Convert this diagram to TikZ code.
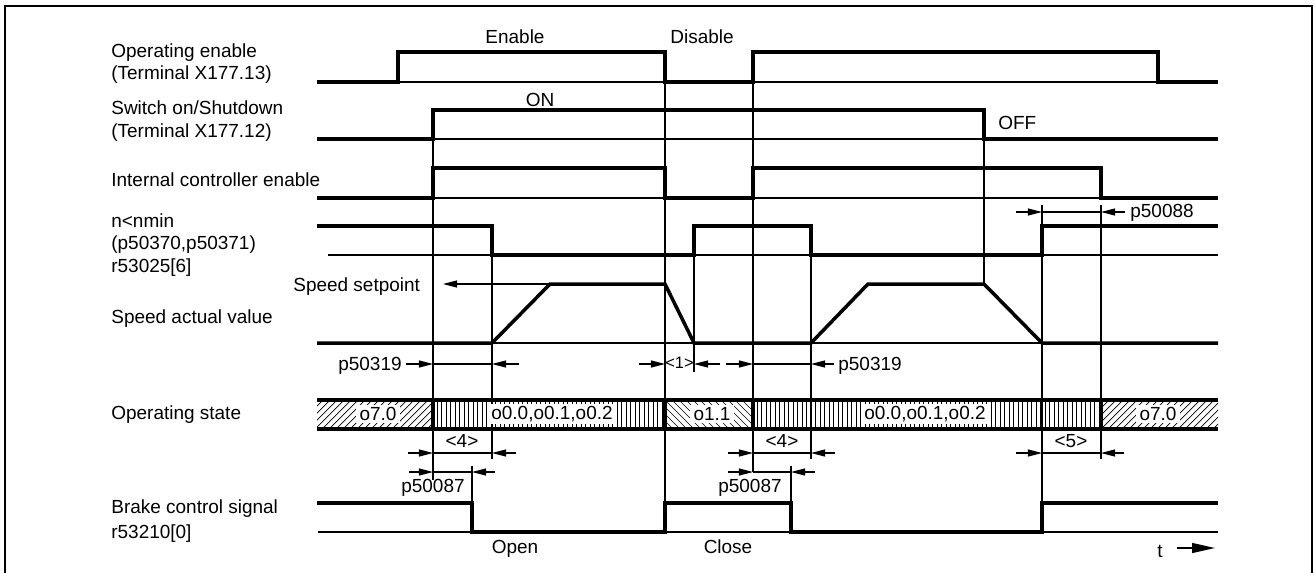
\documentclass[tikz,border=0pt]{standalone}
\usepackage{fontspec}
\setmainfont{Liberation Sans}
\usetikzlibrary{arrows.meta}
\begin{document}
\begin{tikzpicture}[x=0.02cm,y=-0.02cm,
  sig/.style={line width=2pt, line join=miter},
  thinl/.style={line width=0.6pt},
  hatch/.style={line width=0.4pt},
  lbl/.style={font=\fontsize{10.8}{13}\selectfont, inner sep=0pt},
  dimarrow/.style={thinl,-{Triangle[length=8pt,width=4pt]}},
  statelbl/.style={lbl, fill=white, inner xsep=2pt, inner ysep=1.5pt},
  sep/.style={line width=2.2pt}
]
\useasboundingbox (0,0) rectangle (1315,572);
\draw[line width=1.4pt] (5,574) -- (5,6) -- (1312,6) -- (1312,574);

% ---------- left labels ----------
\node[lbl,anchor=base west] (l1a) at (111,57) {Operating enable};
\node[lbl,anchor=base west] (l1b) at (111,79) {(Terminal X177.13)};
\node[lbl,anchor=base west] (l2a) at (111,114) {Switch on/Shutdown};
\node[lbl,anchor=base west] (l2b) at (111,137) {(Terminal X177.12)};
\node[lbl,anchor=base west] (l3) at (111,186) {Internal controller enable};
\node[lbl,anchor=base west] (l4a) at (111,227) {n<nmin};
\node[lbl,anchor=base west] (l4b) at (111,249) {(p50370,p50371)};
\node[lbl,anchor=base west] (l4c) at (111,272) {r53025[6]};
\node[lbl,anchor=base west] (l5) at (111,323) {Speed actual value};
\node[lbl,anchor=base west] (l6) at (111,419) {Operating state};
\node[lbl,anchor=base west] (l7a) at (111,513) {Brake control signal};
\node[lbl,anchor=base west] (l7b) at (111,538) {r53210[0]};

% ---------- top labels ----------
\node[lbl,anchor=base] (en) at (515,43) {Enable};
\node[lbl,anchor=base] (dis) at (702,43) {Disable};
\node[lbl,anchor=base] (on) at (540,106) {ON};
\node[lbl,anchor=base west] (off) at (998,129) {OFF};
\node[lbl,anchor=base west] (ssp) at (293,291) {Speed setpoint};

% ---------- thin baselines ----------
\draw[thinl] (317,82) -- (1218,82);
\draw[thinl] (317,139) -- (1218,139);
\draw[thinl] (317,198) -- (1218,198);
\draw[thinl] (328,255) -- (1218,255);
\draw[thinl] (317,343) -- (1218,343);
\draw[thinl] (318,532) -- (1218,532);

% ---------- vertical guides ----------
\draw[thinl] (433,139) -- (433,480);
\draw[thinl] (492,255) -- (492,459);
\draw[thinl] (665,82) -- (665,532);
\draw[thinl] (694,255) -- (694,372);
\draw[thinl] (753,82) -- (753,472);
\draw[thinl] (811,255) -- (811,459);
\draw[thinl] (984,139) -- (984,284);
\draw[thinl] (1042,205) -- (1042,503);
\draw[thinl] (1101,205) -- (1101,459);
\draw[thinl] (472,466) -- (472,503);
\draw[thinl] (791,466) -- (791,503);

% ---------- signals ----------
\draw[sig] (317,82) -- (398,82) -- (398,52) -- (665,52) -- (665,82) -- (753,82) -- (753,52) -- (1158,52) -- (1158,82) -- (1218,82);
\draw[sig] (317,139) -- (433,139) -- (433,110) -- (984,110) -- (984,139) -- (1218,139);
\draw[sig] (317,198) -- (433,198) -- (433,168) -- (665,168) -- (665,198) -- (753,198) -- (753,168) -- (1101,168) -- (1101,198) -- (1218,198);
\draw[sig] (317,226) -- (492,226) -- (492,255) -- (694,255) -- (694,226) -- (811,226) -- (811,255) -- (1042,255) -- (1042,226) -- (1218,226);
\draw[sig] (317,343) -- (492,343) -- (550,284) -- (665,284) -- (694,343) -- (811,343) -- (868,284) -- (984,284) -- (1042,343) -- (1218,343);
\draw[sig] (317,503) -- (472,503) -- (472,532) -- (665,532) -- (665,503) -- (791,503) -- (791,532) -- (1042,532) -- (1042,503) -- (1218,503);

% speed setpoint arrow
\coordinate (spA) at (665,284);
\coordinate (spB) at (443,284);
\draw[dimarrow] (spA) -- (spB);

% ---------- operating state bar ----------
\begin{scope}
  \clip (317,400) rectangle (433,429);
  \foreach \x in {280,287,...,440} \draw[hatch] (\x,429) -- ++(29,-29);
\end{scope}
\begin{scope}
  \clip (1101,400) rectangle (1218,429);
  \foreach \x in {1066,1073,...,1225} \draw[hatch] (\x,429) -- ++(29,-29);
\end{scope}
\begin{scope}
  \clip (665,400) rectangle (753,429);
  \foreach \x in {630,637,...,760} \draw[hatch] (\x,400) -- ++(29,29);
\end{scope}
\begin{scope}
  \clip (433,400) rectangle (665,429);
  \foreach \x in {437,441.5,...,665} \draw[hatch] (\x,400) -- (\x,429);
\end{scope}
\begin{scope}
  \clip (753,400) rectangle (1101,429);
  \foreach \x in {757,761.5,...,1101} \draw[hatch] (\x,400) -- (\x,429);
\end{scope}
\node[statelbl] (s1) at (378,414) {o7.0};
\node[statelbl] (s2) at (552,414) {o0.0,o0.1,o0.2};
\node[statelbl] (s3) at (712,414) {o1.1};
\node[statelbl] (s4) at (925,414) {o0.0,o0.1,o0.2};
\node[statelbl] (s5) at (1158,414) {o7.0};
\draw[sig] (317,400) -- (1218,400);
\draw[sig] (317,429) -- (1218,429);
\foreach \x in {433,665,753,1101} \draw[sep] (\x,400) -- (\x,429);

% ---------- dimensions ----------
% p50319 #1
\draw[dimarrow] (406,364) -- (433,364);
\draw[thinl] (433,364) -- (492,364);
\draw[dimarrow] (519,364) -- (492,364);
\node[lbl,anchor=base east] (d1) at (402,370) {p50319};
% <1>
\draw[dimarrow] (639,364) -- (665,364);
\draw[dimarrow] (720,364) -- (694,364);
\node[lbl,anchor=base,font=\fontsize{9.4}{11}\selectfont] (d2) at (679.5,368) {<1>};
% p50319 #2
\draw[dimarrow] (726,364) -- (753,364);
\draw[thinl] (753,364) -- (811,364);
\draw[dimarrow] (834,364) -- (811,364);
\node[lbl,anchor=base west] (d3) at (838,370) {p50319};
% p50088
\draw[dimarrow] (1016,212) -- (1042,212);
\draw[thinl] (1042,212) -- (1101,212);
\draw[dimarrow] (1125,212) -- (1101,212);
\node[lbl,anchor=base west] (d4) at (1130,217) {p50088};
% <4> #1
\draw[dimarrow] (408,453) -- (433,453);
\draw[thinl] (433,453) -- (492,453);
\draw[dimarrow] (516,453) -- (492,453);
\node[lbl,anchor=base] (d5) at (462,447) {<4>};
% <4> #2
\draw[dimarrow] (728,453) -- (753,453);
\draw[thinl] (753,453) -- (811,453);
\draw[dimarrow] (835,453) -- (811,453);
\node[lbl,anchor=base] (d6) at (782,447) {<4>};
% <5>
\draw[dimarrow] (1016,453) -- (1042,453);
\draw[thinl] (1042,453) -- (1101,453);
\draw[dimarrow] (1124,453) -- (1101,453);
\node[lbl,anchor=base] (d7) at (1071,447) {<5>};
% p50087 #1
\draw[dimarrow] (409,472) -- (433,472);
\draw[thinl] (433,472) -- (472,472);
\draw[dimarrow] (495,472) -- (472,472);
\node[lbl,anchor=base] (d8) at (433,492) {p50087};
% p50087 #2
\draw[dimarrow] (728,472) -- (753,472);
\draw[thinl] (753,472) -- (791,472);
\draw[dimarrow] (815,472) -- (791,472);
\node[lbl,anchor=base] (d9) at (750,492) {p50087};

% ---------- bottom labels ----------
\node[lbl,anchor=base] (open) at (515,553) {Open};
\node[lbl,anchor=base] (close) at (728,553) {Close};
\node[lbl,anchor=base] (t) at (1160,557) {t};
\coordinate (tA) at (1177,548);
\coordinate (tB) at (1215,548);
\draw[line width=0.9pt,-{Triangle[length=13pt,width=5.6pt]}] (tA) -- (tB);
\end{tikzpicture}
\end{document}
